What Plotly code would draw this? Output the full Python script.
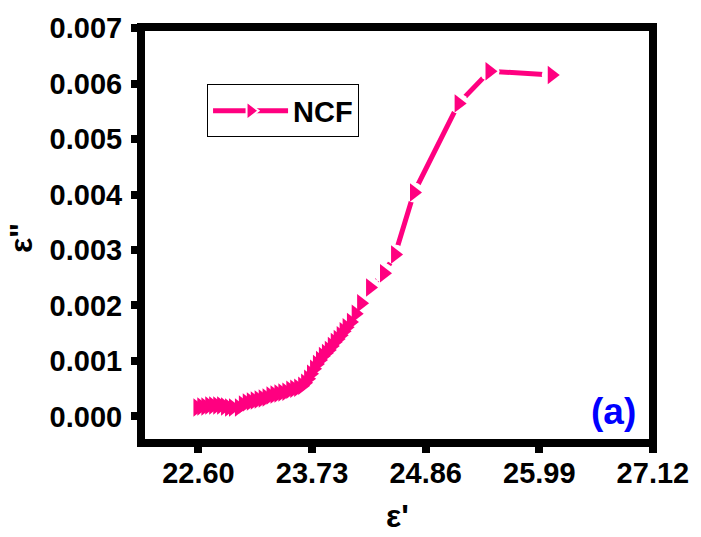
import plotly.graph_objects as go

# ---- data ----
eps_real = [22.590, 22.629, 22.669, 22.708, 22.747, 22.787, 22.826, 22.865, 22.905, 22.944,
            23.003, 23.042, 23.081, 23.121, 23.160, 23.199, 23.239, 23.278, 23.317, 23.357,
            23.396, 23.435, 23.475, 23.514, 23.553, 23.592, 23.632, 23.661, 23.691, 23.720,
            23.750, 23.779, 23.809, 23.838, 23.868, 23.897, 23.927, 23.956, 23.985, 24.015,
            24.044, 24.074, 24.117, 24.164, 24.218, 24.307, 24.446, 24.556, 24.744, 25.188,
            25.495, 26.114]
eps_imag = [0.000161, 0.000179, 0.000179, 0.000196, 0.000196, 0.000196, 0.000196, 0.000179, 0.000161, 0.000161,
            0.000161, 0.000214, 0.000250, 0.000268, 0.000286, 0.000304, 0.000321, 0.000339, 0.000375, 0.000393,
            0.000411, 0.000429, 0.000446, 0.000482, 0.000500, 0.000518, 0.000554, 0.000607, 0.000679, 0.000768,
            0.000857, 0.000946, 0.001018, 0.001089, 0.001143, 0.001196, 0.001268, 0.001339, 0.001393, 0.001464,
            0.001536, 0.001607, 0.001700, 0.001852, 0.002041, 0.002325, 0.002580, 0.002920, 0.004036, 0.005643,
            0.006223, 0.006155]

x_tickvals = [22.60, 23.73, 24.86, 25.99, 27.12]
x_ticktext = ["22.60", "23.73", "24.86", "25.99", "27.12"]
y_tickvals = [0.000, 0.001, 0.002, 0.003, 0.004, 0.005, 0.006, 0.007]
y_ticktext = ["0.000", "0.001", "0.002", "0.003", "0.004", "0.005", "0.006", "0.007"]

series_name = "NCF"
pink = "#FF0080"
FONT = "Liberation Sans, Arial, sans-serif"

fig = go.Figure()
# connecting line
fig.add_trace(go.Scatter(x=eps_real, y=eps_imag, mode="lines",
                         line=dict(color=pink, width=5), showlegend=False, hoverinfo="skip"))
# white halo to open gaps in the line around each marker
fig.add_trace(go.Scatter(x=eps_real, y=eps_imag, mode="markers",
                         marker=dict(symbol="circle", size=20, color="white"),
                         showlegend=False, hoverinfo="skip"))
# markers
fig.add_trace(go.Scatter(x=eps_real, y=eps_imag, mode="markers",
                         marker=dict(symbol="triangle-right", size=16, color=pink),
                         showlegend=False))
# legend entry
fig.add_trace(go.Scatter(x=[None], y=[None], mode="lines+markers", name=series_name,
                         line=dict(color=pink, width=5),
                         marker=dict(symbol="triangle-right", size=18, color=pink,
                                     line=dict(color="white", width=2))))

axis_common = dict(
    showline=False, showgrid=False, zeroline=False,
    ticks="outside", ticklen=9, tickwidth=8, tickcolor="black",
    tickfont=dict(family=FONT, size=29, color="black", weight="bold"),
)

fig.update_xaxes(range=[22.029, 27.121], tickmode="array", tickvals=x_tickvals,
                 ticktext=x_ticktext, ticklabelstandoff=-5, **axis_common)
fig.update_yaxes(range=[-0.00048, 0.00702], tickmode="array", tickvals=y_tickvals,
                 ticktext=y_ticktext, ticklabelstandoff=3, **axis_common)

fig.update_layout(
    width=701, height=537,
    margin=dict(l=141, r=42, t=23, b=94),
    paper_bgcolor="white", plot_bgcolor="white",
    showlegend=True,
    legend=dict(x=0.129, y=0.862, xanchor="left", yanchor="top",
                bordercolor="black", borderwidth=1, bgcolor="white",
                font=dict(family=FONT, size=29, color="black", weight="bold"),
                itemwidth=75),
    shapes=[dict(type="rect", xref="paper", yref="paper", x0=0, x1=1, y0=0, y1=1,
                 line=dict(color="black", width=8), layer="above")],
    annotations=[
        dict(text="ε'", xref="paper", yref="paper", x=0.5, y=-0.176,
             xanchor="center", yanchor="middle",
             showarrow=False, font=dict(family=FONT, size=32, color="black", weight="bold")),
        dict(text="ε\"", xref="paper", yref="paper", x=-0.234, y=0.493, textangle=-90,
             xanchor="center", yanchor="middle",
             showarrow=False, font=dict(family=FONT, size=32, color="black", weight="bold")),
        dict(text="(a)", xref="paper", yref="paper", x=0.923, y=0.076,
             xanchor="center", yanchor="middle",
             showarrow=False, font=dict(family=FONT, size=37, color="#0000FF", weight="bold")),
    ],
)

fig.write_html("out.html")
